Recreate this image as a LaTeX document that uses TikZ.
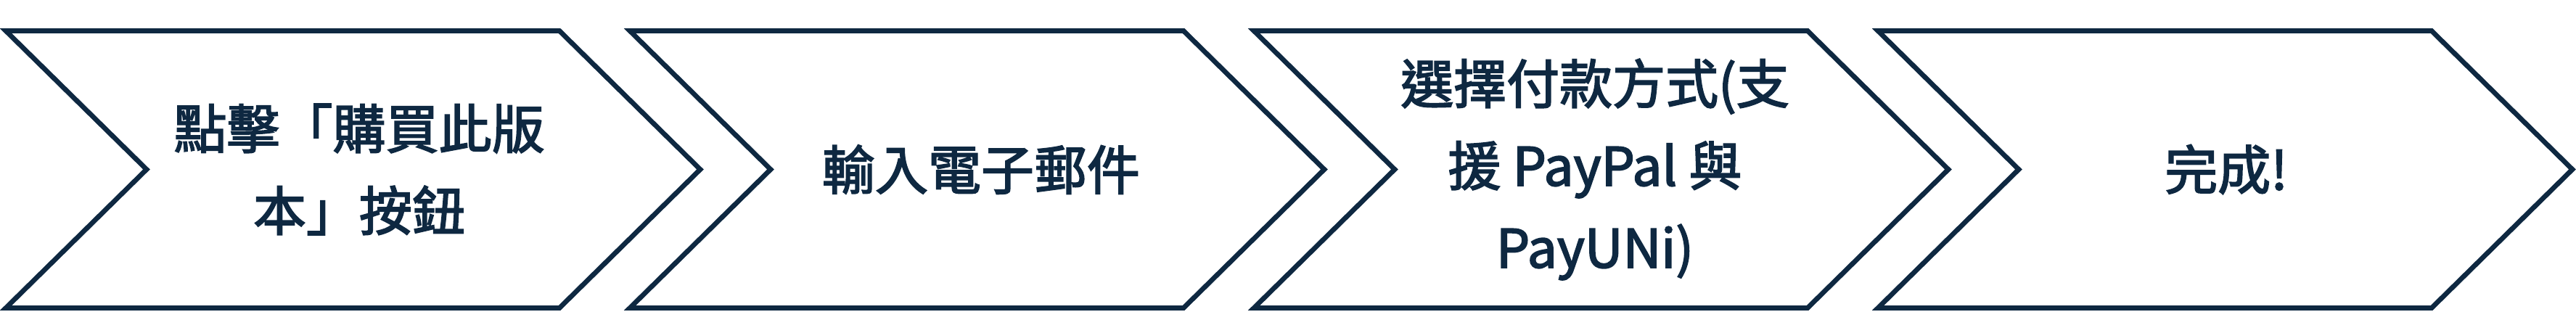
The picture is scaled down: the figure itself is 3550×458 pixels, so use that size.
\documentclass[tikz,border=0pt]{standalone}
\usepackage{fontspec}
\setmainfont{Noto Sans CJK TC}
\newfontfamily\stepfont{Noto Sans CJK TC}[FakeBold=2.5]
\definecolor{navy}{HTML}{0E2841}
\tikzset{chev/.style={draw=navy,line width=1.35pt,line join=miter},
lbl/.style={text=navy,align=center,font=\stepfont\fontsize{14.6}{22.6}\selectfont}}

\begin{document}
\begin{tikzpicture}[x=0.2pt,y=-0.2pt]
\useasboundingbox(0,0)rectangle(3550,458);
\foreach \i in {0,...,3}
\draw[chev,shift={(860*\i,0)}](8,42.5)--(771,42.5)--(965,233.5)--(771,424.5)--(8,424.5)--(202,233.5)--cycle;
\node[lbl](click)at(495,233.5){點擊「購買此版\\本」按鈕};
\node[lbl](email)at(1352,233.5){輸入電子郵件};
\node[lbl](pay)at(2198,233.5){選擇付款方式(支\\援 PayPal 與\\PayUNi)};
\node[lbl](done)at(3068,233.5){完成!};
\end{tikzpicture}
\end{document}
